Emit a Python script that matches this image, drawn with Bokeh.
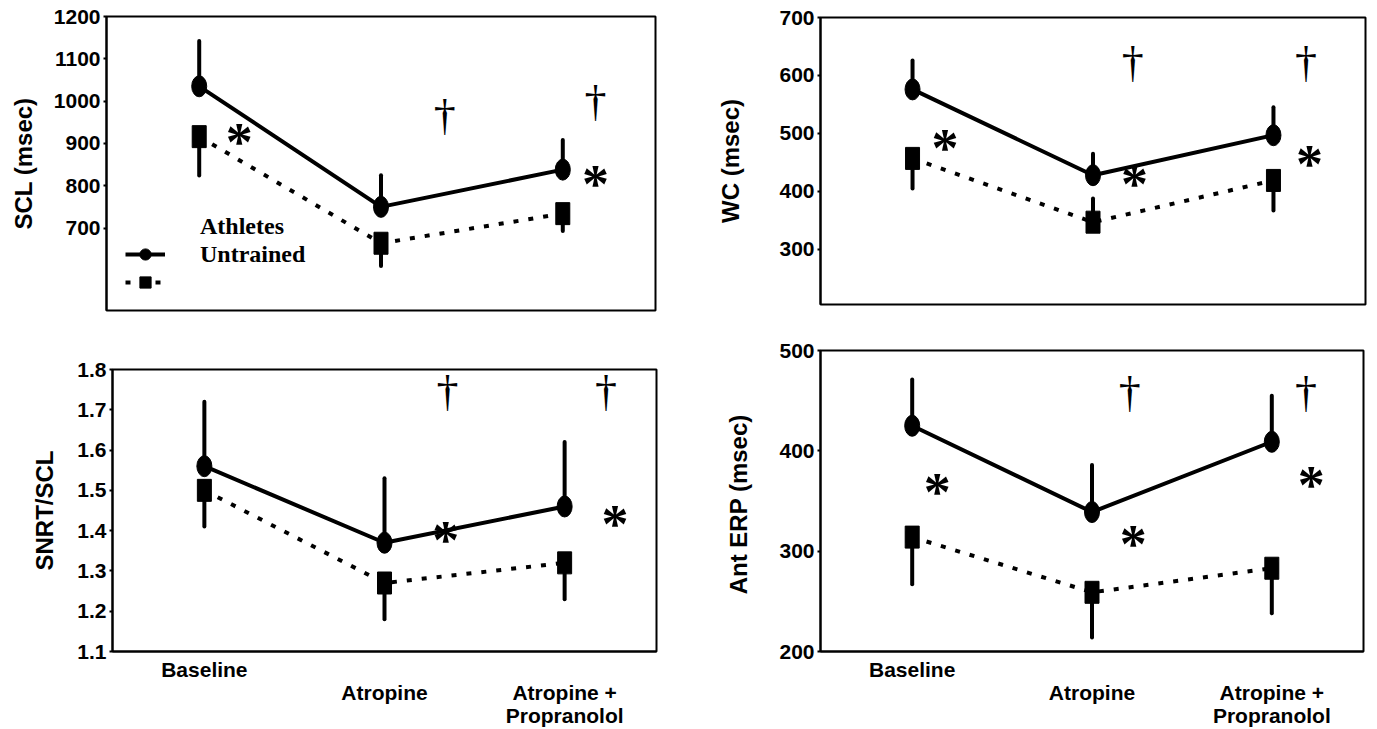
from bokeh.plotting import figure
from bokeh.models import FixedTicker, Legend, LegendItem, Range1d
from bokeh.layouts import column, row
from bokeh.core.properties import value
from bokeh.embed import file_html
from bokeh.resources import INLINE

# ---------------- data ----------------
conditions = ["Baseline", "Atropine", "Atropine +\nPropranolol"]
cond_x = [0, 1, 2]

scl_athletes = [1035, 750, 838]
scl_athletes_err = [1142, 825, 908]
scl_untrained = [916, 664, 734]
scl_untrained_err = [824, 610, 693]
scl_ticks = [700, 800, 900, 1000, 1100, 1200]
scl_star_x = [0.22, 2.18]
scl_star_y = [925, 826]
scl_dagger_x = [1.35, 2.18]
scl_dagger_y = [965, 1000]

wc_athletes = [576, 428, 497]
wc_athletes_err = [626, 465, 545]
wc_untrained = [457, 347, 419]
wc_untrained_err = [405, 388, 367]
wc_ticks = [300, 400, 500, 600, 700]
wc_star_x = [0.18, 1.23, 2.2]
wc_star_y = [491, 428, 462]
wc_dagger_x = [1.22, 2.18]
wc_dagger_y = [622, 622]

snrt_athletes = [1.56, 1.37, 1.46]
snrt_athletes_err = [1.72, 1.53, 1.62]
snrt_untrained = [1.50, 1.27, 1.32]
snrt_untrained_err = [1.41, 1.18, 1.23]
snrt_ticks = [1.1, 1.2, 1.3, 1.4, 1.5, 1.6, 1.7, 1.8]
snrt_star_x = [1.34, 2.28]
snrt_star_y = [1.40, 1.44]
snrt_dagger_x = [1.35, 2.23]
snrt_dagger_y = [1.745, 1.745]

erp_athletes = [425, 339, 409]
erp_athletes_err = [471, 386, 455]
erp_untrained = [314, 259, 283]
erp_untrained_err = [267, 214, 238]
erp_ticks = [200, 300, 400, 500]
erp_star_x = [0.14, 1.23, 2.22]
erp_star_y = [368, 316, 375]
erp_dagger_x = [1.21, 2.19]
erp_dagger_y = [458, 458]

SANS = "Liberation Sans"
SERIF = "Liberation Serif"


def panel(width, height, borders, yr, ticks, ylabel, label_standoff,
          ath, ath_err, unt, unt_err, sx, sy, dx, dy,
          show_x=False, x_standoff=0, legend=False):
    p = figure(width=width, height=height, output_backend="svg",
               toolbar_location=None, tools="",
               x_range=Range1d(-0.51, 2.51), y_range=Range1d(*yr),
               min_border_left=borders[0], min_border_right=borders[1],
               min_border_top=borders[2], min_border_bottom=borders[3])
    p.background_fill_color = "white"
    p.border_fill_color = "white"
    p.outline_line_color = "black"
    p.outline_line_width = 2
    p.xgrid.visible = False
    p.ygrid.visible = False

    ya = p.yaxis[0]
    ya.ticker = FixedTicker(ticks=ticks)
    ya.axis_line_color = "black"
    ya.axis_line_width = 2
    ya.major_tick_in = 0
    ya.major_tick_out = 3
    ya.major_tick_line_width = 2
    ya.minor_tick_line_color = None
    ya.major_label_standoff = 3
    ya.major_label_text_font = SANS
    ya.major_label_text_font_style = "bold"
    ya.major_label_text_font_size = "21px"
    ya.major_label_text_color = "black"
    ya.axis_label = ylabel
    ya.axis_label_text_font = SANS
    ya.axis_label_text_font_style = "bold"
    ya.axis_label_text_font_size = "24px"
    ya.axis_label_text_color = "black"
    ya.axis_label_standoff = label_standoff

    xa = p.xaxis[0]
    if show_x:
        xa.ticker = FixedTicker(ticks=cond_x)
        xa.major_label_overrides = {0: conditions[0],
                                    1: "\n" + conditions[1],
                                    2: "\n" + conditions[2]}
        xa.major_tick_line_color = None
        xa.minor_tick_line_color = None
        xa.axis_line_color = "black"
        xa.axis_line_width = 2
        xa.major_label_standoff = x_standoff
        xa.major_label_text_font = SANS
        xa.major_label_text_font_style = "bold"
        xa.major_label_text_font_size = "21px"
        xa.major_label_text_line_height = 1.0
        xa.major_label_text_color = "black"
    else:
        xa.visible = False

    # error bars
    p.segment(x0=cond_x, y0=ath, x1=cond_x, y1=ath_err, line_color="black",
              line_width=4, line_cap="round")
    p.segment(x0=cond_x, y0=unt, x1=cond_x, y1=unt_err, line_color="black",
              line_width=4, line_cap="round")
    # series
    l_unt = p.line(cond_x, unt, line_color="black", line_width=4,
                   line_dash="5 10")
    s_unt = p.scatter(cond_x, unt, marker="square", size=12,
                      fill_color="black", line_color="black")
    p.rect(cond_x, unt, width=14, height=22, width_units="screen",
           height_units="screen", fill_color="black", line_color="black")
    l_ath = p.line(cond_x, ath, line_color="black", line_width=4)
    s_ath = p.scatter(cond_x, ath, marker="circle", size=12,
                      fill_color="black", line_color="black")
    p.ellipse(cond_x, ath, width=15, height=21, width_units="screen",
              height_units="screen", fill_color="black", line_color="black")

    # significance marks
    p.text(x=sx, y=sy, text=["*"] * len(sx), text_font=value(SERIF),
           text_font_style="bold", text_font_size="54px",
           text_align="center", text_baseline="middle", y_offset=9,
           text_color="black")
    p.text(x=dx, y=dy, text=["\u2020"] * len(dx), text_font=value(SERIF),
           text_font_size="44px", text_align="center",
           text_baseline="middle", text_color="black")

    if legend:
        blank = p.line(cond_x, ath, line_alpha=0)
        lg = Legend(items=[
            LegendItem(label="Athletes", renderers=[blank]),
            LegendItem(label="Untrained", renderers=[l_ath, s_ath]),
            LegendItem(label=" ", renderers=[l_unt, s_unt]),
        ], location=(19, 14))
        lg.padding = 12
        lg.spacing = 0
        lg.glyph_width = 40
        lg.glyph_height = 28
        lg.label_height = 28
        lg.label_standoff = 35
        lg.label_text_font = SERIF
        lg.label_text_font_style = "bold"
        lg.label_text_font_size = "24px"
        lg.label_text_color = "black"
        lg.background_fill_color = "white"
        lg.background_fill_alpha = 1
        lg.border_line_color = None
        p.add_layout(lg, "center")
    return p


p1 = panel(690, 330, (106, 35, 16, 20), (505, 1200), scl_ticks, "SCL (msec)", 14,
           scl_athletes, scl_athletes_err, scl_untrained, scl_untrained_err,
           scl_star_x, scl_star_y, scl_dagger_x, scl_dagger_y, legend=True)
p2 = panel(685, 330, (130, 10, 17, 26), (205, 700), wc_ticks, "WC (msec)", 32,
           wc_athletes, wc_athletes_err, wc_untrained, wc_untrained_err,
           wc_star_x, wc_star_y, wc_dagger_x, wc_dagger_y)
p3 = panel(690, 399, (112, 34, 39, 60), (1.1, 1.8), snrt_ticks, "SNRT/SCL", 16,
           snrt_athletes, snrt_athletes_err, snrt_untrained, snrt_untrained_err,
           snrt_star_x, snrt_star_y, snrt_dagger_x, snrt_dagger_y,
           show_x=True, x_standoff=0)
p4 = panel(685, 399, (130, 12, 20, 60), (200, 500), erp_ticks, "Ant  ERP (msec)", 24,
           erp_athletes, erp_athletes_err, erp_untrained, erp_untrained_err,
           erp_star_x, erp_star_y, erp_dagger_x, erp_dagger_y,
           show_x=True, x_standoff=0)

layout = column(row(column(p1), column(p2)), row(column(p3), column(p4)))
open("out.html", "w").write(file_html(layout, INLINE))
